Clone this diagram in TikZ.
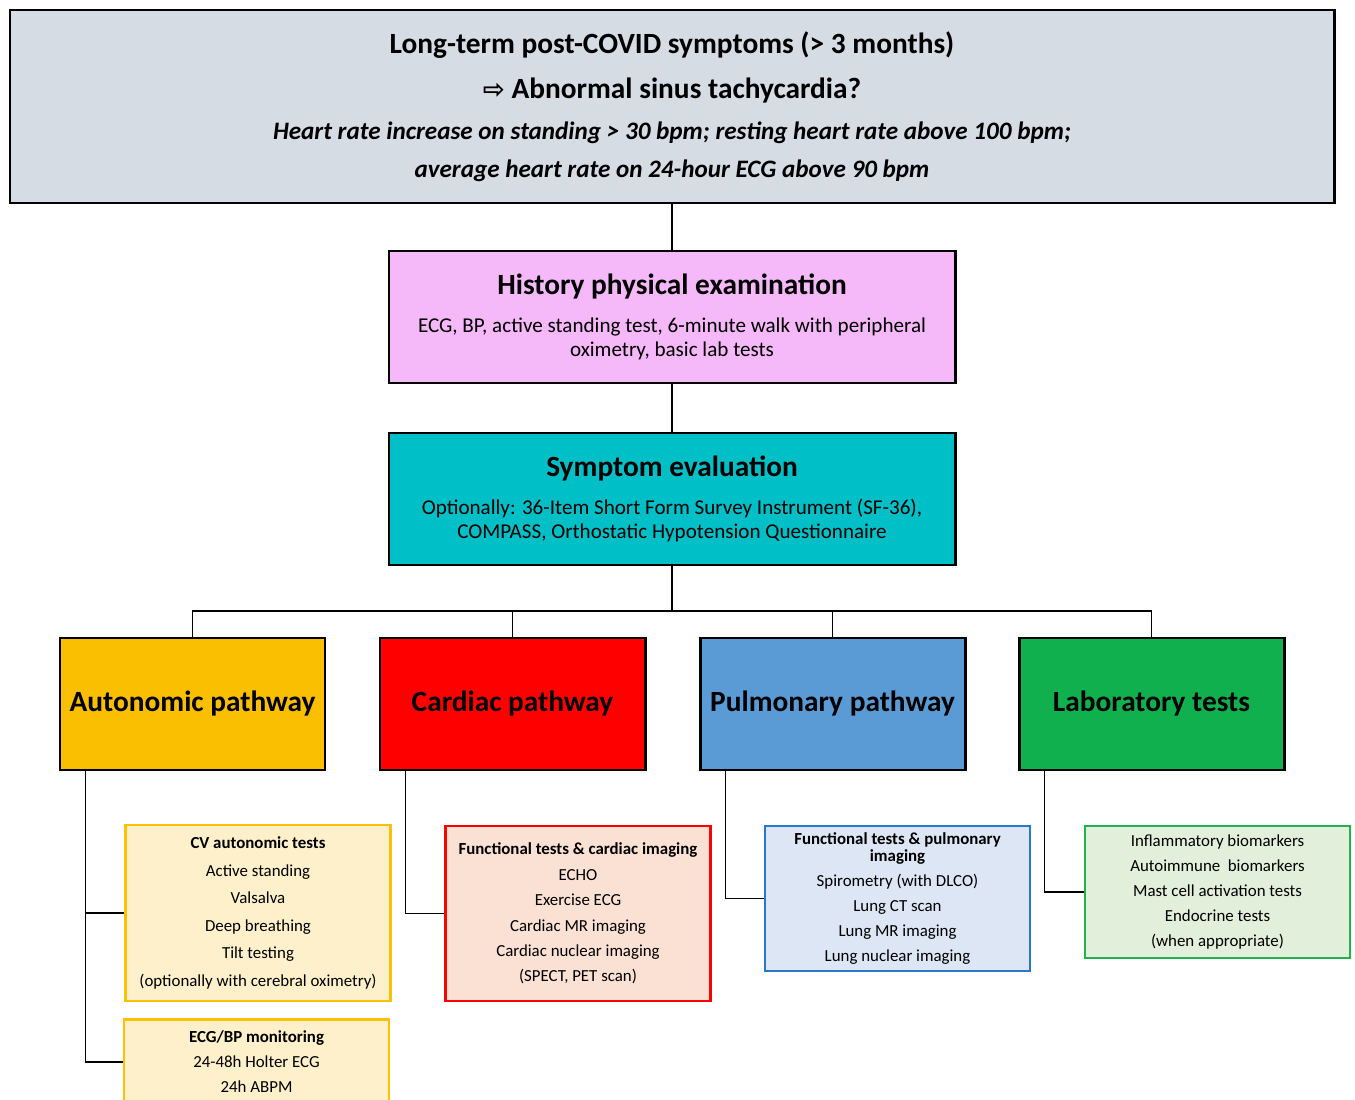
\documentclass[tikz,border=0pt]{standalone}
\usepackage{fontspec}
\setmainfont{Carlito}
\newfontfamily\symfont{DejaVu Sans}
\usepackage{tikz}
\usetikzlibrary{positioning}

\definecolor{topgray}{HTML}{D6DCE4}
\definecolor{histpink}{HTML}{F5B8F8}
\definecolor{sympcyan}{HTML}{00BFC6}
\definecolor{autoyellow}{HTML}{F9BF00}
\definecolor{cardred}{HTML}{FF0000}
\definecolor{pulmblue}{HTML}{5B9BD5}
\definecolor{labgreen}{HTML}{10B04F}
\definecolor{autolight}{HTML}{FEF0CA}
\definecolor{autoedge}{HTML}{FFC000}
\definecolor{cardlight}{HTML}{FBE1D4}
\definecolor{pulmlight}{HTML}{DDE6F4}
\definecolor{pulmedge}{HTML}{2878C8}
\definecolor{lablight}{HTML}{E2EFDA}
\definecolor{labedge}{HTML}{22B14C}

\tikzset{
  mainbox/.style={draw=black, line width=1.7pt, rectangle, align=center, inner sep=0pt},
  stepbox/.style={mainbox, minimum width=11.32cm, minimum height=2.64cm,
    font=\fontsize{12}{13.5}\selectfont},
  pathbox/.style={mainbox, minimum width=5.3cm, minimum height=2.64cm,
    font=\fontsize{16.7}{18}\selectfont\bfseries},
  testbox/.style={rectangle, line width=1.6pt, align=center, inner sep=0pt,
    minimum width=5.3cm, font=\fontsize{9.6}{14.2}\selectfont},
  link/.style={line width=1.1pt, draw=black}
}

\begin{document}
\begin{tikzpicture}
        \useasboundingbox (0,0) rectangle (27.1,-22);

        % the question on top
        \node[mainbox, fill=topgray, minimum width=26.48cm, minimum height=3.86cm,
              font=\fontsize{16.7}{18}\selectfont\bfseries] (covid) at (13.44,-2.13)
              {Long-term post-COVID symptoms (> 3 months)\\[7.5pt]
               {\symfont\fontsize{15}{18}\selectfont ⇨} Abnormal sinus tachycardia?\\[5.5pt]
               {\fontsize{14.3}{18}\selectfont\itshape Heart rate increase on standing > 30 bpm; resting heart rate above 100 bpm;}\\[3.5pt]
               {\fontsize{14.3}{18}\selectfont\itshape average heart rate on 24-hour ECG above 90 bpm}};

        % the two general steps
        \node[stepbox, fill=histpink] (history) at (13.44,-6.34)
              {{\fontsize{16.7}{18}\selectfont\bfseries History physical examination}\\[8pt]
               ECG, BP, active standing test, 6-minute walk with peripheral\\
               oximetry, basic lab tests};
        \node[stepbox, fill=sympcyan] (symptom) at (13.44,-9.98)
              {{\fontsize{16.7}{18}\selectfont\bfseries Symptom evaluation}\\[8pt]
               Optionally: 36-Item Short Form Survey Instrument (SF-36),\\
               COMPASS, Orthostatic Hypotension Questionnaire};

        % the four pathways
        \node[pathbox, fill=autoyellow] (auto) at (3.85,-14.08) {Autonomic pathway};
        \node[pathbox, fill=cardred] (card) at (10.25,-14.08) {Cardiac pathway};
        \node[pathbox, fill=pulmblue] (pulm) at (16.65,-14.08) {Pulmonary pathway};
        \node[pathbox, fill=labgreen] (lab) at (23.03,-14.08) {Laboratory tests};

        % the tests of each pathway
        \node[testbox, draw=autoedge, fill=autolight, minimum height=3.52cm,
              font=\fontsize{9.6}{15.7}\selectfont] (cvtests) at (5.16,-18.26)
              {\textbf{CV autonomic tests}\\ Active standing\\ Valsalva\\ Deep breathing\\ Tilt testing\\
               (optionally with cerebral oximetry)};
        \node[testbox, draw=autoedge, fill=autolight, minimum height=1.7cm, anchor=north] (monitor) at (5.13,-20.36)
              {\textbf{ECG/BP monitoring}\\ 24-48h Holter ECG\\ 24h ABPM};
        \node[testbox, draw=cardred, fill=cardlight, minimum height=3.5cm,
              font=\fontsize{9.6}{14.5}\selectfont] (cardtests) at (11.56,-18.27)
              {\textbf{Functional tests \& cardiac imaging}\\ ECHO\\ Exercise ECG\\ Cardiac MR imaging\\
               Cardiac nuclear imaging\\ (SPECT, PET scan)};
        \node[testbox, draw=pulmedge, fill=pulmlight, minimum height=2.9cm] (pulmtests) at (17.95,-17.97)
              {\textbf{Functional tests \& pulmonary}\\[-4.6pt] \textbf{imaging}\\
               Spirometry (with DLCO)\\ Lung CT scan\\ Lung MR imaging\\ Lung nuclear imaging};
        \node[testbox, draw=labedge, fill=lablight, minimum height=2.64cm] (labtests) at (24.35,-17.84)
              {Inflammatory biomarkers\\ Autoimmune~ biomarkers\\ Mast cell activation tests\\
               Endocrine tests\\ (when appropriate)};

        % draw the links
        \draw[link] (covid) -- (history);
        \draw[link] (history) -- (symptom);
        \coordinate (fork) at (13.44,-12.22);
        \draw[link] (symptom) -- (fork);
        \foreach \p in {auto, card, pulm, lab}
            \draw[link] (fork) -| (\p.north);
        \draw[link] ([xshift=0.54cm]auto.south west) |- (monitor.west);
        \draw[link] ([xshift=0.54cm]auto.south west |- cvtests.west) -- (cvtests.west);
        \draw[link] ([xshift=0.54cm]card.south west) |- (cardtests.west);
        \draw[link] ([xshift=0.54cm]pulm.south west) |- (pulmtests.west);
        \draw[link] ([xshift=0.54cm]lab.south west) |- (labtests.west);

    \end{tikzpicture}
\end{document}
